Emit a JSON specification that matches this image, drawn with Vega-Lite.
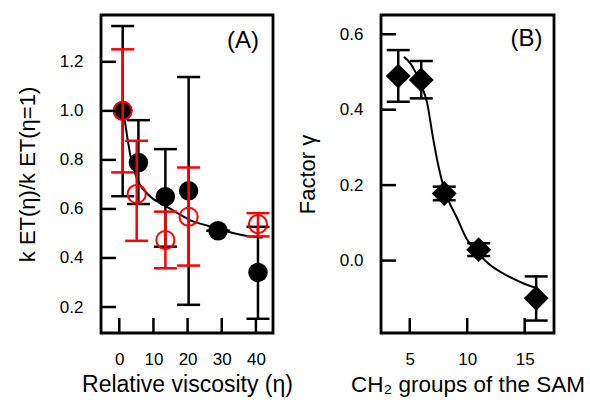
{
  "$schema": "https://vega.github.io/schema/vega-lite/v6.json",
  "padding": {"left": 14, "top": 13, "right": 0, "bottom": 0},
  "spacing": 0,
  "config": {
    "font": "Liberation Sans",
    "view": {"stroke": "black", "strokeWidth": 2.8},
    "axis": {
      "grid": false,
      "zindex": 0,
      "domain": false,
      "ticks": true,
      "offset": 0,
      "tickSize": 0,
      "labelPadding": 18,
      "labelFont": "Liberation Sans",
      "labelFontSize": 17,
      "labelColor": "black",
      "titleFont": "Liberation Sans",
      "titleFontSize": 22,
      "titleFontWeight": "normal",
      "titleColor": "black"
    }
  },
  "datasets": {
    "ticksAx": [{"eta": 0, "c": 0.1245}, {"eta": 10, "c": 0.1245}, {"eta": 20, "c": 0.1245}, {"eta": 30, "c": 0.1245}, {"eta": 40, "c": 0.1245}],
    "ticksAy": [{"k": 0.2, "c": -3.16}, {"k": 0.4, "c": -3.16}, {"k": 0.6, "c": -3.16}, {"k": 0.8, "c": -3.16}, {"k": 1.0, "c": -3.16}, {"k": 1.2, "c": -3.16}],
    "ticksBx": [{"n": 5, "c": -0.172}, {"n": 10, "c": -0.172}, {"n": 15, "c": -0.172}],
    "ticksBy": [{"g": 0.0, "c": 3.15}, {"g": 0.2, "c": 3.15}, {"g": 0.4, "c": 3.15}, {"g": 0.6, "c": 3.15}],
    "blackA": [
      {"eta": 1, "k": 1.0, "lo": 0.652, "hi": 1.346},
      {"eta": 5.6, "k": 0.789, "lo": 0.62, "hi": 0.962},
      {"eta": 13.5, "k": 0.65, "lo": 0.446, "hi": 0.844},
      {"eta": 20.3, "k": 0.674, "lo": 0.209, "hi": 1.138},
      {"eta": 28.9, "k": 0.511, "lo": 0.511, "hi": 0.511},
      {"eta": 40.6, "k": 0.341, "lo": 0.152, "hi": 0.527}
    ],
    "redA": [
      {"eta": 1, "k": 1.0, "lo": 0.749, "hi": 1.251},
      {"eta": 5.1, "k": 0.661, "lo": 0.47, "hi": 0.878},
      {"eta": 13.5, "k": 0.473, "lo": 0.358, "hi": 0.589},
      {"eta": 20.3, "k": 0.568, "lo": 0.369, "hi": 0.769},
      {"eta": 40.6, "k": 0.538, "lo": 0.488, "hi": 0.583}
    ],
    "fitA": [
      {"eta": 1.5, "k": 0.97},
      {"eta": 2.5, "k": 0.88},
      {"eta": 3.5, "k": 0.8},
      {"eta": 4.5, "k": 0.75},
      {"eta": 6, "k": 0.7},
      {"eta": 8, "k": 0.665},
      {"eta": 10, "k": 0.64},
      {"eta": 12, "k": 0.625},
      {"eta": 15, "k": 0.6},
      {"eta": 18, "k": 0.575},
      {"eta": 21, "k": 0.552},
      {"eta": 25, "k": 0.535},
      {"eta": 29, "k": 0.518},
      {"eta": 33, "k": 0.503},
      {"eta": 37, "k": 0.491},
      {"eta": 42, "k": 0.483}
    ],
    "ptsB": [
      {"n": 4, "g": 0.489, "lo": 0.421, "hi": 0.558},
      {"n": 6, "g": 0.479, "lo": 0.43, "hi": 0.529},
      {"n": 8, "g": 0.178, "lo": 0.16, "hi": 0.196},
      {"n": 11, "g": 0.029, "lo": 0.012, "hi": 0.046},
      {"n": 16, "g": -0.1, "lo": -0.159, "hi": -0.042}
    ],
    "fitB": [
      {"n": 4.5, "g": 0.54},
      {"n": 5, "g": 0.525},
      {"n": 5.5, "g": 0.5},
      {"n": 6, "g": 0.465},
      {"n": 6.5, "g": 0.42},
      {"n": 7, "g": 0.33},
      {"n": 7.5, "g": 0.25},
      {"n": 8, "g": 0.19},
      {"n": 8.5, "g": 0.15},
      {"n": 9, "g": 0.12},
      {"n": 10, "g": 0.055},
      {"n": 11, "g": 0.018},
      {"n": 12, "g": -0.012},
      {"n": 13, "g": -0.032},
      {"n": 14, "g": -0.048},
      {"n": 15, "g": -0.062},
      {"n": 16, "g": -0.072}
    ],
    "labelA": [{"eta": 36.2, "k": 1.285, "t": "(A)"}],
    "labelB": [{"n": 15.16, "g": 0.5875, "t": "(B)"}]
  },
  "hconcat": [
    {
      "width": 172,
      "height": 318,
      "layer": [
        {"data": {"name": "fitA"}, "mark": {"type": "line", "color": "black", "strokeWidth": 2, "interpolate": "monotone"},
         "encoding": {
          "x": {"field": "eta", "type": "quantitative", "scale": {"domain": [-5.35, 45], "nice": false, "zero": false}, "axis": {"values": [0, 10, 20, 30, 40], "title": "Relative viscosity (η)", "titlePadding": 6, "titleFontSize": 23}},
          "y": {"field": "k", "type": "quantitative", "scale": {"domain": [0.094, 1.391], "nice": false, "zero": false}, "axis": {"values": [0.2, 0.4, 0.6, 0.8, 1.0, 1.2], "format": ".1f", "title": "k ET(η)/k ET(η=1)", "titlePadding": 20}}
         }},
        {"data": {"name": "blackA"}, "mark": {"type": "rule", "color": "black", "strokeWidth": 2.5}, "encoding": {"x": {"field": "eta", "type": "quantitative"}, "y": {"field": "lo", "type": "quantitative"}, "y2": {"field": "hi"}}},
        {"data": {"name": "blackA"}, "mark": {"type": "tick", "orient": "horizontal", "color": "black", "size": 23, "thickness": 2.5, "opacity": 1}, "encoding": {"x": {"field": "eta", "type": "quantitative"}, "y": {"field": "lo", "type": "quantitative"}}},
        {"data": {"name": "blackA"}, "mark": {"type": "tick", "orient": "horizontal", "color": "black", "size": 23, "thickness": 2.5, "opacity": 1}, "encoding": {"x": {"field": "eta", "type": "quantitative"}, "y": {"field": "hi", "type": "quantitative"}}},
        {"data": {"name": "blackA"}, "mark": {"type": "point", "shape": "circle", "filled": true, "color": "black", "size": 380, "opacity": 1}, "encoding": {"x": {"field": "eta", "type": "quantitative"}, "y": {"field": "k", "type": "quantitative"}}},
        {"data": {"name": "redA"}, "mark": {"type": "rule", "color": "#ff0000", "strokeWidth": 2.5}, "encoding": {"x": {"field": "eta", "type": "quantitative"}, "y": {"field": "lo", "type": "quantitative"}, "y2": {"field": "hi"}}},
        {"data": {"name": "redA"}, "mark": {"type": "tick", "orient": "horizontal", "color": "#ff0000", "size": 23, "thickness": 2.5, "opacity": 1}, "encoding": {"x": {"field": "eta", "type": "quantitative"}, "y": {"field": "lo", "type": "quantitative"}}},
        {"data": {"name": "redA"}, "mark": {"type": "tick", "orient": "horizontal", "color": "#ff0000", "size": 23, "thickness": 2.5, "opacity": 1}, "encoding": {"x": {"field": "eta", "type": "quantitative"}, "y": {"field": "hi", "type": "quantitative"}}},
        {"data": {"name": "redA"}, "mark": {"type": "point", "shape": "circle", "filled": false, "color": "#ff0000", "strokeWidth": 2, "size": 330, "opacity": 1}, "encoding": {"x": {"field": "eta", "type": "quantitative"}, "y": {"field": "k", "type": "quantitative"}}},
        {"data": {"name": "labelA"}, "mark": {"type": "text", "fontSize": 24, "color": "black", "baseline": "middle", "align": "center"}, "encoding": {"x": {"field": "eta", "type": "quantitative"}, "y": {"field": "k", "type": "quantitative"}, "text": {"field": "t"}}},
        {"data": {"name": "ticksAx"}, "mark": {"type": "tick", "orient": "vertical", "color": "black", "size": 15, "thickness": 2.5, "opacity": 1}, "encoding": {"x": {"field": "eta", "type": "quantitative"}, "y": {"field": "c", "type": "quantitative"}}},
        {"data": {"name": "ticksAy"}, "mark": {"type": "tick", "orient": "horizontal", "color": "black", "size": 15, "thickness": 2.5, "opacity": 1}, "encoding": {"y": {"field": "k", "type": "quantitative"}, "x": {"field": "c", "type": "quantitative"}}}
      ]
    },
    {
      "width": 173,
      "height": 318,
      "layer": [
        {"data": {"name": "fitB"}, "mark": {"type": "line", "color": "black", "strokeWidth": 2, "interpolate": "monotone"},
         "encoding": {
          "x": {"field": "n", "type": "quantitative", "scale": {"domain": [2.5, 17.55], "nice": false, "zero": false}, "axis": {"values": [5, 10, 15], "title": "CH₂ groups of the SAM", "titlePadding": 6, "titleFontSize": 22.5}},
          "y": {"field": "g", "type": "quantitative", "scale": {"domain": [-0.192, 0.651], "nice": false, "zero": false}, "axis": {"values": [0.0, 0.2, 0.4, 0.6], "format": ".1f", "title": "Factor γ", "titlePadding": 20}}
         }},
        {"data": {"name": "ptsB"}, "mark": {"type": "rule", "color": "black", "strokeWidth": 2.5}, "encoding": {"x": {"field": "n", "type": "quantitative"}, "y": {"field": "lo", "type": "quantitative"}, "y2": {"field": "hi"}}},
        {"data": {"name": "ptsB"}, "mark": {"type": "tick", "orient": "horizontal", "color": "black", "size": 23, "thickness": 2.5, "opacity": 1}, "encoding": {"x": {"field": "n", "type": "quantitative"}, "y": {"field": "lo", "type": "quantitative"}}},
        {"data": {"name": "ptsB"}, "mark": {"type": "tick", "orient": "horizontal", "color": "black", "size": 23, "thickness": 2.5, "opacity": 1}, "encoding": {"x": {"field": "n", "type": "quantitative"}, "y": {"field": "hi", "type": "quantitative"}}},
        {"data": {"name": "ptsB"}, "mark": {"type": "point", "shape": "diamond", "filled": true, "color": "black", "size": 620, "opacity": 1}, "encoding": {"x": {"field": "n", "type": "quantitative"}, "y": {"field": "g", "type": "quantitative"}}},
        {"data": {"name": "labelB"}, "mark": {"type": "text", "fontSize": 24, "color": "black", "baseline": "middle", "align": "center"}, "encoding": {"x": {"field": "n", "type": "quantitative"}, "y": {"field": "g", "type": "quantitative"}, "text": {"field": "t"}}},
        {"data": {"name": "ticksBx"}, "mark": {"type": "tick", "orient": "vertical", "color": "black", "size": 15, "thickness": 2.5, "opacity": 1}, "encoding": {"x": {"field": "n", "type": "quantitative"}, "y": {"field": "c", "type": "quantitative"}}},
        {"data": {"name": "ticksBy"}, "mark": {"type": "tick", "orient": "horizontal", "color": "black", "size": 15, "thickness": 2.5, "opacity": 1}, "encoding": {"y": {"field": "g", "type": "quantitative"}, "x": {"field": "c", "type": "quantitative"}}}
      ]
    }
  ]
}
